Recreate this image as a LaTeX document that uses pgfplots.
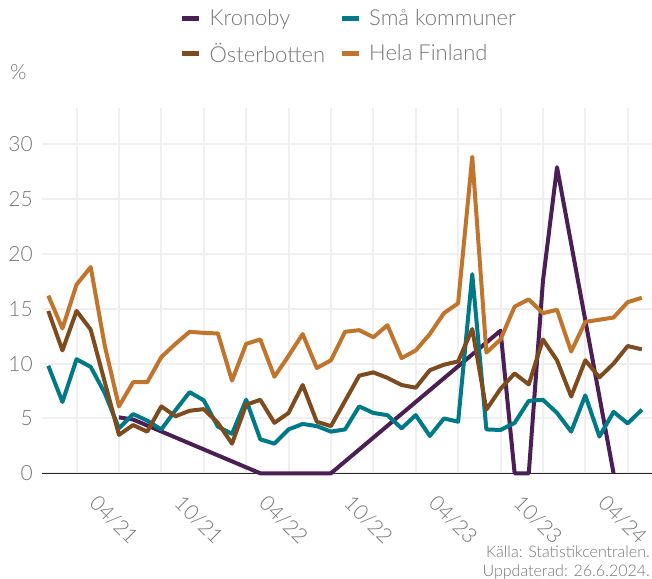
\documentclass[border=0pt]{standalone}
\usepackage{fontspec}
\setmainfont{Lato Light}
\usepackage{pgfplots}
\pgfplotsset{compat=1.18}
\usepackage{pgfplotstable}

\definecolor{cKron}{HTML}{4B1E55}
\definecolor{cSma}{HTML}{007A87}
\definecolor{cOst}{HTML}{7D4B1E}
\definecolor{cHela}{HTML}{C0742C}
\definecolor{txt}{HTML}{767676}
\definecolor{gridc}{HTML}{EFEFEF}

\pgfplotstableread{
i hela ost sma
0 16.2 14.8 9.8
1 13.2 11.2 6.5
2 17.2 14.8 10.4
3 18.8 13.1 9.7
4 11.6 8.3 7.3
5 6.1 3.5 4.1
6 8.3 4.4 5.4
7 8.3 3.8 4.8
8 10.6 6.1 4.0
9 11.8 5.2 5.75
10 12.9 5.7 7.4
11 12.8 5.85 6.65
12 12.75 4.6 4.25
13 8.45 2.7 3.6
14 11.8 6.25 6.7
15 12.2 6.7 3.1
16 8.8 4.6 2.7
17 10.7 5.5 4.0
18 12.7 8.05 4.5
19 9.6 4.7 4.3
20 10.3 4.3 3.8
21 12.9 6.6 4.0
22 13.05 8.9 6.1
23 12.4 9.2 5.5
24 13.5 8.7 5.3
25 10.5 8.05 4.1
26 11.2 7.8 5.3
27 12.7 9.4 3.4
28 14.6 9.9 5.0
29 15.5 10.2 4.7
30 28.85 13.15 18.15
31 11.0 5.8 4.0
32 12.2 7.7 3.95
33 15.2 9.1 4.6
34 15.85 8.1 6.6
35 14.6 12.2 6.7
36 14.9 10.3 5.5
37 11.1 7.0 3.8
38 13.8 10.3 7.1
39 14.0 8.75 3.35
40 14.2 10.0 5.6
41 15.6 11.6 4.55
42 16.0 11.3 5.8
}\datatable

\pgfplotstableread{
i kron
5 5.1
6 4.9
15 0
20 0
32 13.0
33 0
34 0
35 17.5
36 27.9
40 0
}\krontable

\begin{document}
\begin{tikzpicture}
\path[use as bounding box] (-42bp,-105.7bp) rectangle (610bp,473.3bp);
\begin{axis}[
  at={(0,0)}, anchor=south west,
  scale only axis, width=610bp, height=365.3bp,
  xmin=-0.446, xmax=42.72, ymin=0, ymax=33.3,
  clip=false,
  axis line style={draw=none},
  major tick length=0, minor tick length=0,
  xtick={5,11,17,23,29,35,41},
  xticklabels={04/21,10/21,04/22,10/22,04/23,10/23,04/24},
  minor xtick={2,8,14,20,26,32,38},
  ytick={0,5,...,30},
  xmajorgrids, xminorgrids, ymajorgrids,
  grid style={gridc, line width=2bp},
  minor grid style={gridc, line width=2bp},
  extra y ticks={0}, extra y tick labels={},
  extra y tick style={grid style={black!85, line width=1.5bp}},
  /pgf/number format/assume math mode=true,
  tick label style={font=\fontsize{21bp}{25bp}\selectfont, text=txt},
  yticklabel style={anchor=east, inner sep=0pt, xshift=-9bp},
  xticklabel style={xshift=-5bp, yshift=-46.7bp, rotate=-45, anchor=center, inner sep=0pt},
  legend columns=2,
  legend cell align=left,
  legend style={draw=none, fill=none, at={(0.503,1.275)}, anchor=north,
    font=\fontsize{22bp}{26bp}\selectfont, text=txt, inner sep=0pt, row sep=12bp,
    /tikz/every odd column/.append style={column sep=6bp},
    /tikz/every even column/.append style={column sep=12bp}},
  legend image code/.code={\draw[#1, line width=5bp, line cap=butt] (0bp,0bp) -- (17bp,0bp);},
  every axis plot/.append style={line width=4bp, line join=round},
]
\addplot[cKron] table[x=i,y=kron]{\krontable};
\addlegendentry{Kronoby}
\addplot[cSma] table[x=i,y=sma]{\datatable};
\addlegendentry{Små kommuner}
\addplot[cOst] table[x=i,y=ost]{\datatable};
\addlegendentry{Österbotten}
\addplot[cHela] table[x=i,y=hela]{\datatable};
\addlegendentry{Hela Finland}
\end{axis}
\node[anchor=west, inner sep=0pt, text=txt, font=\fontsize{21bp}{25bp}\selectfont] at (-32bp,401.3bp) {\%};
\node[anchor=east, inner sep=0pt, text=txt, font=\fontsize{16bp}{19bp}\selectfont] at (608bp,-78.7bp) {Källa: Statistikcentralen.};
\node[anchor=east, inner sep=0pt, text=txt, font=\fontsize{16bp}{19bp}\selectfont] at (608bp,-98.7bp) {Uppdaterad: 26.6.2024.};
\end{tikzpicture}
\end{document}
